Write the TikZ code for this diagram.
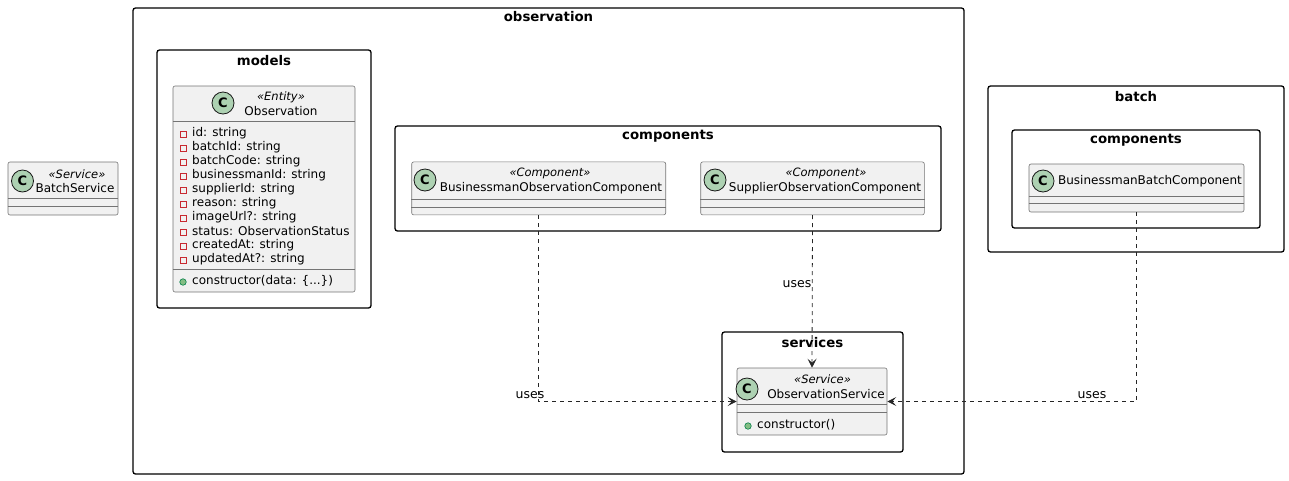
\documentclass[tikz,border=0pt]{standalone}
\usepackage{fontspec}
\setmainfont{DejaVu Sans}
\usetikzlibrary{arrows.meta}
\definecolor{classfill}{HTML}{F1F1F1}
\definecolor{classline}{HTML}{181818}
\definecolor{spotfill}{HTML}{ADD1B2}
\definecolor{privred}{HTML}{C82930}
\definecolor{pubfill}{HTML}{84BE84}
\definecolor{publine}{HTML}{038048}
\begin{document}
\begin{tikzpicture}[x=1pt, y=-1pt,
    every node/.style={font=\fontsize{12}{14}\selectfont, inner sep=0pt},
    pkgbox/.style={draw=black, line width=1.3pt, rounded corners=2.5pt},
    pkgtitle/.style={font=\fontsize{13.3}{15}\selectfont\bfseries},
    classbox/.style={draw=classline!60, fill=classfill, line width=0.6pt, rounded corners=2pt},
    sepline/.style={draw=classline!60, line width=0.6pt},
    spot/.style={circle, draw=classline, fill=spotfill, line width=0.8pt, minimum size=22pt, font=\fontsize{13}{13}\selectfont\bfseries},
    stereo/.style={font=\fontsize{11.5}{13}\selectfont\itshape},
    member/.style={anchor=west},
    privmark/.style={draw=privred, line width=0.8pt, minimum size=6pt},
    pubmark/.style={circle, draw=publine, fill=pubfill, line width=0.6pt, minimum size=6.5pt},
    dep/.style={draw=black!85, line width=0.8pt, dash pattern=on 4pt off 4pt, -{Stealth[length=9pt, width=9pt, inset=4pt]}},
    uselabel/.style={font=\fontsize{12.5}{14}\selectfont}]
\useasboundingbox (0,0) rectangle (1289,480);

% packages
\node[pkgbox, minimum width=831pt, minimum height=466pt] (obspkg) at (548.5,241) {};
\node[pkgtitle] (obstitle) at ([yshift=-9pt]obspkg.north) {observation};
\node[pkgbox, minimum width=214pt, minimum height=258pt] (modelspkg) at (264,179) {};
\node[pkgtitle] (modelstitle) at ([yshift=-11pt]modelspkg.north) {models};
\node[pkgbox, minimum width=546pt, minimum height=105pt] (obscomppkg) at (668,178.5) {};
\node[pkgtitle] (obscomptitle) at ([yshift=-11pt]obscomppkg.north) {components};
\node[pkgbox, minimum width=181pt, minimum height=120pt] (svcpkg) at (812.5,392) {};
\node[pkgtitle] (svctitle) at ([yshift=-11pt]svcpkg.north) {services};
\node[pkgbox, minimum width=296pt, minimum height=166pt] (batchpkg) at (1136,169) {};
\node[pkgtitle] (batchtitle) at ([yshift=-11pt]batchpkg.north) {batch};
\node[pkgbox, minimum width=248pt, minimum height=98pt] (batchcomppkg) at (1136,179) {};
\node[pkgtitle] (batchcomptitle) at ([yshift=-11pt]batchcomppkg.north) {components};

% BatchService
\node[classbox, minimum width=110pt, minimum height=53pt] (bsvc) at (63,188.5) {};
\draw[sepline] ([yshift=-37pt]bsvc.north west) -- ([yshift=-37pt]bsvc.north east);
\draw[sepline] ([yshift=-45pt]bsvc.north west) -- ([yshift=-45pt]bsvc.north east);
\node[spot] (bsvcspot) at (22.5,181) {C};
\node[stereo] (bsvcst) at (77,174) {«Service»};
\node (bsvcname) at (75,188) {BatchService};

% Observation
\node[classbox, minimum width=182pt, minimum height=206pt] (obs) at (264,189) {};
\draw[sepline] ([yshift=-36pt]obs.north west) -- ([yshift=-36pt]obs.north east);
\draw[sepline] ([yshift=-184pt]obs.north west) -- ([yshift=-184pt]obs.north east);
\node[spot] (obsspot) at (223,103) {C};
\node[stereo] (obsst) at (281,97) {«Entity»};
\node (obsname) at (281,111) {Observation};
\foreach \attr [count=\i from 0] in {id: string, batchId: string, batchCode: string,
    businessmanId: string, supplierId: string, reason: string, imageUrl?: string,
    status: ObservationStatus, createdAt: string, updatedAt?: string} {
  \node[privmark] (obspriv\i) at (183,134+14*\i) {};
  \node[member] (obsattr\i) at (192,133+14*\i) {\attr};
}
\node[pubmark] (obspub) at (183,282) {};
\node[member] (obsmeth) at (192,281) {constructor(data: \{...\})};

% BusinessmanObservationComponent
\node[classbox, minimum width=254pt, minimum height=53pt] (boc) at (538.7,188.4) {};
\draw[sepline] ([yshift=-37.5pt]boc.north west) -- ([yshift=-37.5pt]boc.north east);
\draw[sepline] ([yshift=-45.5pt]boc.north west) -- ([yshift=-45.5pt]boc.north east);
\node[spot] (bocspot) at (425,180) {C};
\node[stereo] (bocst) at (550,173.3) {«Component»};
\node (bocname) at (551,188.3) {BusinessmanObservationComponent};

% SupplierObservationComponent
\node[classbox, minimum width=223.6pt, minimum height=53pt] (soc) at (812.5,188.4) {};
\draw[sepline] ([yshift=-37.5pt]soc.north west) -- ([yshift=-37.5pt]soc.north east);
\draw[sepline] ([yshift=-45.5pt]soc.north west) -- ([yshift=-45.5pt]soc.north east);
\node[spot] (socspot) at (715,180) {C};
\node[stereo] (socst) at (826,173.3) {«Component»};
\node (socname) at (825,188.3) {SupplierObservationComponent};

% ObservationService
\node[classbox, minimum width=150pt, minimum height=67pt] (osvc) at (812,401.5) {};
\draw[sepline] ([yshift=-37pt]osvc.north west) -- ([yshift=-37pt]osvc.north east);
\draw[sepline] ([yshift=-45pt]osvc.north west) -- ([yshift=-45pt]osvc.north east);
\node[spot] (osvcspot) at (747,389) {C};
\node[stereo] (osvcst) at (822.5,379) {«Service»};
\node (osvcname) at (826,394) {ObservationService};
\node[pubmark] (osvcpub) at (748,426) {};
\node[member] (osvcmeth) at (757,425) {constructor()};

% BusinessmanBatchComponent
\node[classbox, minimum width=215pt, minimum height=48pt] (bbc) at (1136.5,188) {};
\draw[sepline] ([yshift=-33pt]bbc.north west) -- ([yshift=-33pt]bbc.north east);
\draw[sepline] ([yshift=-40pt]bbc.north west) -- ([yshift=-40pt]bbc.north east);
\node[spot] (bbcspot) at (1043,181) {C};
\node (bbcname) at (1150,181) {BusinessmanBatchComponent};

% dependencies
\draw[dep] (boc.south) |- (osvc.west);
\draw[dep] (soc.south) -- (osvc.north);
\draw[dep] (bbc.south) |- (osvc.east);
\node[uselabel] (bocuses) at (530,395) {uses};
\node[uselabel] (socuses) at (797,284) {uses};
\node[uselabel] (bbcuses) at (1092,395) {uses};
\end{tikzpicture}
\end{document}
